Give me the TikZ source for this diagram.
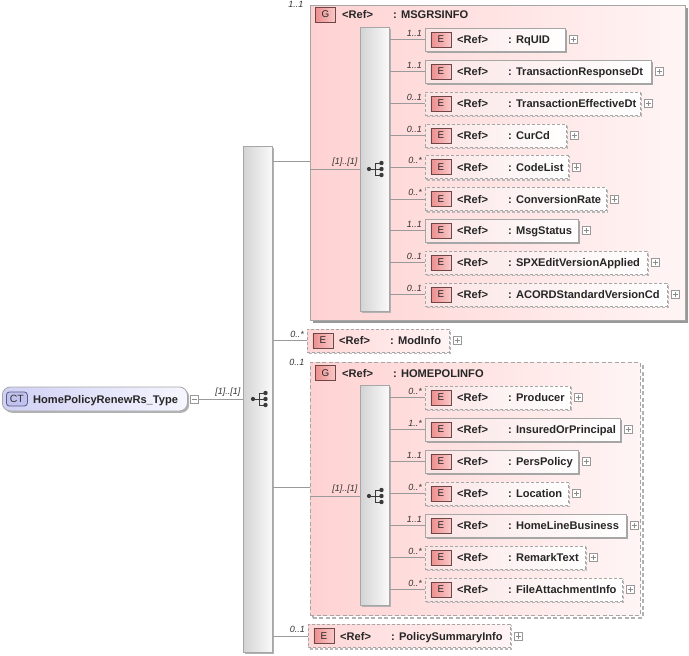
\documentclass[tikz,border=0pt]{standalone}
\usepackage{fontspec}
\setmainfont{Liberation Sans}
\usetikzlibrary{shadows,calc}
\definecolor{linec}{HTML}{9A9A9A}
\definecolor{bordc}{HTML}{A6A6A6}
\definecolor{grpL}{HTML}{FFD2D2}
\definecolor{grpR}{HTML}{FFF5F5}
\definecolor{elL}{HTML}{FBE4E4}
\definecolor{selL}{HTML}{FFD6D6}
\definecolor{selR}{HTML}{FFF4F4}
\definecolor{icoL}{HTML}{EC8E8E}
\definecolor{icoR}{HTML}{F9C8C8}
\definecolor{icoB}{HTML}{6E4646}
\definecolor{seqL}{HTML}{D4D4D4}
\definecolor{seqR}{HTML}{FAFAFA}
\definecolor{ctL}{HTML}{D0D0F4}
\definecolor{ctR}{HTML}{F6F6FF}
\definecolor{ctI}{HTML}{C2C2EE}
\definecolor{ctB}{HTML}{5A5A8C}
\definecolor{icond}{HTML}{3A3A3A}
\tikzset{
  conn/.style={draw=linec, line width=0.8pt},
  solidshadow/.style={drop shadow={shadow xshift=1.6pt, shadow yshift=-1.6pt, fill=black!35, opacity=1}},
  dashshadow/.style={drop shadow={shadow xshift=1.4pt, shadow yshift=-1.4pt, fill=none, draw=black!28, line width=1.3pt, dash pattern=on 3pt off 2pt, opacity=1}},
  elsolid/.style={draw=bordc, line width=0.8pt, left color=elL, right color=white, minimum height=23pt, inner sep=0pt, solidshadow},
  eldash/.style={draw=bordc, line width=0.8pt, dash pattern=on 3pt off 2pt, left color=elL, right color=white, minimum height=23pt, inner sep=0pt, dashshadow},
  elpink/.style={draw=bordc, line width=0.8pt, dash pattern=on 3pt off 2pt, left color=selL, right color=selR, minimum height=23pt, inner sep=0pt, dashshadow},
  grpsolid/.style={draw=bordc, line width=0.9pt, left color=grpL, right color=grpR, inner sep=0pt, drop shadow={shadow xshift=2.4pt, shadow yshift=-2.4pt, fill=black!40, opacity=1}},
  grpdash/.style={draw=bordc, line width=0.9pt, dash pattern=on 4pt off 2.5pt, left color=grpL, right color=grpR, inner sep=0pt, drop shadow={shadow xshift=2.2pt, shadow yshift=-2.2pt, fill=none, draw=black!30, line width=2pt, dash pattern=on 4pt off 2.5pt, opacity=1}},
  seqbar/.style={draw=bordc, line width=0.8pt, left color=seqL, right color=seqR, minimum width=29pt, inner sep=0pt, drop shadow={shadow xshift=1.8pt, shadow yshift=-1.8pt, fill=black!30, opacity=1}},
  eicon/.style={draw=icoB, line width=0.7pt, left color=icoL, right color=icoR, minimum width=20pt, minimum height=15pt, inner sep=0pt, font=\fontsize{9.8}{10}\selectfont, text=black!85},
  reft/.style={inner sep=0pt, text height=8pt, text depth=0pt, font=\fontsize{11.1}{12}\selectfont\bfseries, text=black!85},
  card/.style={inner sep=0.5pt, font=\fontsize{9}{9}\selectfont\itshape, text=black!80},
  plusbox/.style={draw=black!40, line width=0.6pt, fill=white, minimum size=8pt, inner sep=0pt,
    path picture={\draw[black!45, line width=0.7pt] ([xshift=-2.6pt]path picture bounding box.center) -- ([xshift=2.6pt]path picture bounding box.center) ([yshift=-2.6pt]path picture bounding box.center) -- ([yshift=2.6pt]path picture bounding box.center);}},
  minusbox/.style={draw=black!40, line width=0.6pt, fill=white, minimum size=8pt, inner sep=0pt,
    path picture={\draw[black!45, line width=0.7pt] ([xshift=-2.6pt]path picture bounding box.center) -- ([xshift=2.6pt]path picture bounding box.center);}},
}
\newcommand\elemrow[8]{%
  \node[#5, minimum width=#4pt, anchor=west] (#1) at (#2,#3) {};
  \node[eicon, anchor=west] (#1-i) at ([xshift=5.5pt]#1.west) {E};
  \node[reft, anchor=west] (#1-r) at ([xshift=32pt]#1.west) {<Ref>};
  \node[reft, anchor=west] (#1-t) at ([xshift=83pt]#1.west) {: #6};
  \node[plusbox, anchor=west] (#1-p) at ([xshift=3pt]#1.east) {};
  \draw[conn] (#8.east |- #1.west) -- (#1.west);
  \node[card, anchor=south east] (#1-c) at ([xshift=-2.5pt,yshift=2.5pt]#1.west) {#7};
}
\newcommand\seqglyph[3]{%
  \coordinate (#1) at (#2,#3);
  \draw[icond, line width=0.9pt] ($(#1)+(-6,0)$) -- ($(#1)+(6,0)$)
    ($(#1)+(0,-6)$) -- ($(#1)+(0,6)$)
    ($(#1)+(0,-6)$) -- ($(#1)+(6,-6)$)
    ($(#1)+(0,6)$) -- ($(#1)+(6,6)$);
  \fill[icond] ($(#1)+(-6,0)$) circle (2.1pt) ($(#1)+(6.5,-6)$) circle (2.2pt) ($(#1)+(6.5,0)$) circle (2.2pt) ($(#1)+(6.5,6)$) circle (2.2pt);
}
\begin{document}
\begin{tikzpicture}[x=1pt,y=-1pt]
\useasboundingbox (0,0) rectangle (689,656);

% root complex type
\node[draw=black!35, line width=0.8pt, left color=ctL, right color=ctR, rounded corners=8pt, minimum width=185pt, minimum height=24pt, anchor=west, inner sep=0pt,
  drop shadow={shadow xshift=1.8pt, shadow yshift=-1.8pt, fill=black!30, opacity=1}] (ct) at (2,399) {};
\node[draw=ctB, line width=0.8pt, fill=ctI, rounded corners=3pt, minimum width=21pt, minimum height=14pt, inner sep=0pt, anchor=west, font=\fontsize{10.5}{11}\selectfont, text=black!80] (ct-i) at ([xshift=4pt]ct.west) {CT};
\node[reft, anchor=west] (ct-t) at ([xshift=31pt]ct.west) {HomePolicyRenewRs\_Type};
\node[minusbox, anchor=west] (ct-m) at ([xshift=2.5pt]ct.east) {};

% main sequence
\node[seqbar, minimum height=506pt, anchor=north west] (mainseq) at (243,146) {};
\draw[conn] (ct-m.east) -- (mainseq.west |- ct-m.east);
\node[card, anchor=south east] (main-c) at (241,397) {[1]..[1]};
\seqglyph{mainicon}{259}{399}

% MSGRSINFO group
\node[grpsolid, minimum width=375pt, minimum height=315pt, anchor=north west] (g1) at (310,5) {};
\node[eicon, anchor=west] (g1-i) at (315,14.5) {G};
\node[reft, anchor=west] (g1-r) at (342,14.5) {<Ref>};
\node[reft, anchor=west] (g1-t) at (393,14.5) {: MSGRSINFO};
\node[card, anchor=north east] (g1-c) at (304,0.5) {1..1};
\coordinate (g1port) at (310,161);
\draw[conn] (mainseq.east |- g1port) -- (g1port);
\node[seqbar, minimum height=284pt, anchor=north west] (seq1) at (360,27) {};
\seqglyph{seq1icon}{375}{169}
\draw[conn] (g1.west |- seq1icon) -- (seq1.west |- seq1icon);
\node[card, anchor=south east] (seq1-c) at (358,167) {[1]..[1]};

\elemrow{rquid}{425}{39.5}{140}{elsolid}{RqUID}{1..1}{seq1}
\elemrow{trd}{425}{71.5}{226}{elsolid}{TransactionResponseDt}{1..1}{seq1}
\elemrow{ted}{425}{103.5}{215}{eldash}{TransactionEffectiveDt}{0..1}{seq1}
\elemrow{curcd}{425}{135.5}{141}{eldash}{CurCd}{0..1}{seq1}
\elemrow{codelist}{425}{167}{143}{eldash}{CodeList}{0..*}{seq1}
\elemrow{convrate}{425}{199}{181}{eldash}{ConversionRate}{0..*}{seq1}
\elemrow{msgstatus}{425}{230.5}{153}{elsolid}{MsgStatus}{1..1}{seq1}
\elemrow{spx}{425}{262.5}{222}{eldash}{SPXEditVersionApplied}{0..1}{seq1}
\elemrow{acord}{425}{294.5}{242}{eldash}{ACORDStandardVersionCd}{0..1}{seq1}

% ModInfo
\elemrow{modinfo}{307}{340.5}{142}{elpink}{ModInfo}{0..*}{mainseq}

% HOMEPOLINFO group
\node[grpdash, minimum width=330pt, minimum height=253pt, anchor=north west] (g2) at (310,362) {};
\node[eicon, anchor=west] (g2-i) at (315,373) {G};
\node[reft, anchor=west] (g2-r) at (342,373) {<Ref>};
\node[reft, anchor=west] (g2-t) at (393,373) {: HOMEPOLINFO};
\node[card, anchor=north east] (g2-c) at (305,358.5) {0..1};
\coordinate (g2port) at (310,487);
\draw[conn] (mainseq.east |- g2port) -- (g2port);
\node[seqbar, minimum height=220pt, anchor=north west] (seq2) at (360,385) {};
\seqglyph{seq2icon}{375}{496}
\draw[conn] (g2.west |- seq2icon) -- (seq2.west |- seq2icon);
\node[card, anchor=south east] (seq2-c) at (358,494) {[1]..[1]};

\elemrow{producer}{425}{397.5}{145}{eldash}{Producer}{0..*}{seq2}
\elemrow{insured}{425}{429.5}{195}{elsolid}{InsuredOrPrincipal}{1..*}{seq2}
\elemrow{pers}{425}{461.5}{153}{elsolid}{PersPolicy}{1..1}{seq2}
\elemrow{location}{425}{493.5}{143}{eldash}{Location}{0..*}{seq2}
\elemrow{hlb}{425}{525.5}{201}{elsolid}{HomeLineBusiness}{1..1}{seq2}
\elemrow{remark}{425}{557.5}{160}{eldash}{RemarkText}{0..*}{seq2}
\elemrow{fai}{425}{589.5}{197}{eldash}{FileAttachmentInfo}{0..*}{seq2}

% PolicySummaryInfo
\elemrow{psi}{308}{636}{202}{elpink}{PolicySummaryInfo}{0..1}{mainseq}
\end{tikzpicture}
\end{document}
